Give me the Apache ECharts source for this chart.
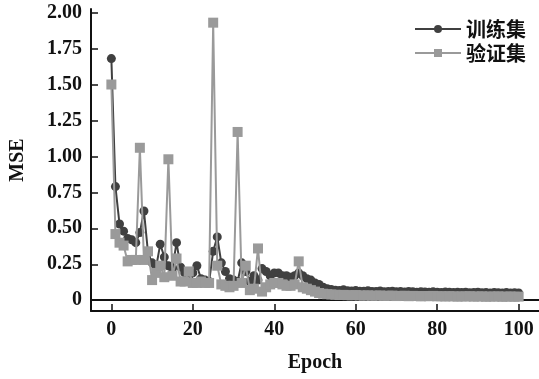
<!DOCTYPE html>
<html>
<head>
<meta charset="utf-8">
<script src="https://cdn.jsdelivr.net/npm/echarts@6/dist/echarts.min.js"></script>
<style>html,body{margin:0;padding:0;background:#fff}#c{width:539px;height:379px}</style>
</head>
<body>
<div id="c"></div>
<script>
var trainLoss = [
  1.68,0.79,0.53,0.48,0.43,0.42,0.40,0.47,0.62,0.33,
  0.26,0.23,0.39,0.30,0.24,0.22,0.40,0.23,0.19,0.17,
  0.19,0.24,0.15,0.14,0.13,0.34,0.44,0.26,0.20,0.15,
  0.14,0.13,0.26,0.20,0.13,0.17,0.14,0.22,0.20,0.17,
  0.19,0.19,0.17,0.17,0.16,0.17,0.19,0.17,0.15,0.14,
  0.12,0.11,0.09,0.08,
  0.075,0.07,0.068,0.072,0.066,0.064,0.067,0.062,0.063,0.066,
  0.06,0.061,0.064,0.059,0.06,0.062,0.058,0.06,0.057,0.061,
  0.058,0.056,0.059,0.057,0.055,0.058,0.056,0.054,0.057,0.055,
  0.053,0.056,0.054,0.055,0.052,0.054,0.056,0.052,0.053,0.051,
  0.054,0.052,0.05,0.053,0.051,0.052,0.05
];
var valLoss = [
  1.50,0.46,0.40,0.38,0.27,0.28,0.28,1.06,0.28,0.34,
  0.14,0.19,0.24,0.16,0.98,0.17,0.29,0.13,0.13,0.20,
  0.12,0.12,0.13,0.12,0.12,1.93,0.24,0.11,0.10,0.09,
  0.10,1.17,0.12,0.24,0.07,0.08,0.36,0.06,0.09,0.11,
  0.12,0.12,0.11,0.10,0.10,0.11,0.27,0.09,0.08,0.07,
  0.06,0.05,0.045,0.042,
  0.04,0.038,0.036,0.037,0.035,0.034,0.036,0.033,0.032,0.034,
  0.031,0.032,0.033,0.03,0.031,0.032,0.029,0.03,0.031,0.028,
  0.03,0.029,0.027,0.029,0.028,0.03,0.027,0.028,0.026,0.028,
  0.027,0.025,0.027,0.026,0.028,0.025,0.026,0.027,0.024,0.026,
  0.025,0.027,0.024,0.025,0.026,0.024,0.025
];
var xTicks = [0,20,40,60,80,100];
var yTicks = [0,0.25,0.5,0.75,1.0,1.25,1.5,1.75,2.0];
var seriesNames = ['训练集','验证集'];

function pairs(arr){ return arr.map(function(v,i){ return [i, v]; }); }

var serif = '"Liberation Serif","Times New Roman",serif';
var chart = echarts.init(document.getElementById('c'), null, {renderer:'canvas'});
chart.setOption({
  animation:false,
  backgroundColor:'#fff',
  grid:{left:87, right:0, top:9, bottom:68, containLabel:false},
  legend:{
    orient:'vertical', right:8, top:14, itemWidth:46, itemHeight:10, itemGap:4,
    textStyle:{fontFamily:'"Noto Sans CJK SC"', fontWeight:'bold', fontSize:20, color:'#111'},
    data:seriesNames
  },
  xAxis:[{
    type:'value', min:-5, max:105,
    name:'Epoch', nameLocation:'middle', nameGap:42,
    nameTextStyle:{fontFamily:serif, fontWeight:'bold', fontSize:20, color:'#111'},
    axisLine:{show:true, onZero:false, lineStyle:{color:'#111', width:2}},
    axisTick:{show:true, inside:true, length:7, customValues:xTicks, lineStyle:{color:'#111', width:1.5}},
    axisLabel:{customValues:xTicks, margin:9, fontFamily:serif, fontWeight:'bold', fontSize:20, color:'#111'},
    splitLine:{show:false}
  },{
    type:'value', position:'top', min:-5, max:105,
    axisLine:{show:true, lineStyle:{color:'#111', width:2}},
    axisTick:{show:false}, axisLabel:{show:false}, splitLine:{show:false}
  }],
  yAxis:{
    type:'value', min:-0.075, max:2.025,
    name:'MSE', nameLocation:'middle', nameGap:63, nameRotate:90,
    nameTextStyle:{fontFamily:serif, fontWeight:'bold', fontSize:20, color:'#111'},
    axisLine:{show:true, onZero:false, lineStyle:{color:'#111', width:2}},
    axisTick:{show:true, inside:true, length:7, customValues:yTicks, lineStyle:{color:'#111', width:1.5}},
    axisLabel:{customValues:yTicks, margin:9, fontFamily:serif, fontWeight:'bold', fontSize:20, color:'#111',
      formatter:function(v){ return v === 0 ? '0' : v.toFixed(2); }},
    splitLine:{show:false}
  },
  series:[{
    name:seriesNames[0], type:'line', data:pairs(trainLoss),
    symbol:'circle', symbolSize:9, showAllSymbol:true,
    lineStyle:{color:'#404040', width:2}, itemStyle:{color:'#404040'}, z:2
  },{
    name:seriesNames[1], type:'line', data:pairs(valLoss),
    symbol:'rect', symbolSize:10, showAllSymbol:true,
    lineStyle:{color:'#9a9a9a', width:2}, itemStyle:{color:'#9a9a9a'}, z:3
  }]
});
</script>
</body>
</html>
